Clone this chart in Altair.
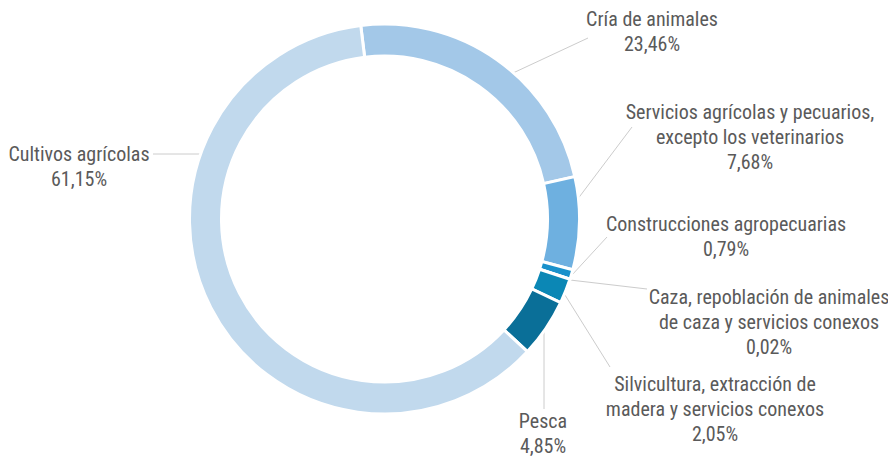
import math
import altair as alt
import pandas as pd

# ---- data ----
categorias = [
    "Cría de animales",
    "Servicios agrícolas y pecuarios, excepto los veterinarios",
    "Construcciones agropecuarias",
    "Caza, repoblación de animales de caza y servicios conexos",
    "Silvicultura, extracción de madera y servicios conexos",
    "Pesca",
    "Cultivos agrícolas",
]
porcentajes = [23.46, 7.68, 0.79, 0.02, 2.05, 4.85, 61.15]
colores = ["#a3c8e8", "#6eb0e0", "#1a91cb", "#0b7fb0", "#0b87b5", "#0a6f98", "#c1d9ed"]
lineas_etiqueta = [
    ["Cría de animales"],
    ["Servicios agrícolas y pecuarios,", "excepto los veterinarios"],
    ["Construcciones agropecuarias"],
    ["Caza, repoblación de animales", "de caza y servicios conexos"],
    ["Silvicultura, extracción de", "madera y servicios conexos"],
    ["Pesca"],
    ["Cultivos agrícolas"],
]

# ---- layout (label placement, leader lines) ----
W, H = 880, 448
CX, CY = 376.5, 211
R_OUT, R_IN = 195, 163
START = 2 * math.pi - math.radians(7)
label_pos = [(644, 12), (742, 105), (718, 217), (761, 290), (707, 377), (535, 414), (71, 147)]
leader = [
    (505, 65, 580, 30),
    (569, 192, 624, 119),
    (564, 267, 599, 229),
    (562, 272, 639, 281),
    (557, 287, 602, 359),
    (536, 324, 536, 401),
    (145, 146, 197, 146),
]

def fmt(v):
    return f"{v:.2f}".replace(".", ",") + "%"

df = pd.DataFrame({"cat": categorias, "pct": porcentajes, "orden": list(range(len(categorias)))})
df_lab = pd.DataFrame({
    "cat": categorias,
    "texto": ["\n".join(l + [fmt(v)]) for l, v in zip(lineas_etiqueta, porcentajes)],
    "x": [p[0] for p in label_pos],
    "y": [p[1] for p in label_pos],
})
df_lead = pd.DataFrame({
    "x": [l[0] for l in leader], "y": [l[1] for l in leader],
    "x2": [l[2] for l in leader], "y2": [l[3] for l in leader],
})

arcs = alt.Chart(df).mark_arc(
    outerRadius=R_OUT, innerRadius=R_IN, stroke="white", strokeWidth=3
).encode(
    theta=alt.Theta("pct:Q", stack=True, scale=alt.Scale(range=[START, START + 2 * math.pi])),
    color=alt.Color("cat:N", scale=alt.Scale(domain=categorias, range=colores), legend=None),
    order=alt.Order("orden:Q"),
    x=alt.value(CX),
    y=alt.value(CY),
)

lines = alt.Chart(df_lead).mark_rule(color="#cccccc", strokeWidth=1).encode(
    x=alt.X("x:Q", scale=None, axis=None),
    y=alt.Y("y:Q", scale=None, axis=None),
    x2="x2:Q",
    y2="y2:Q",
)

texts = alt.Chart(df_lab).mark_text(
    font="Roboto Condensed, Liberation Sans, sans-serif",
    fontSize=20,
    color="#5a5a5a",
    align="center",
    baseline="middle",
    lineBreak="\n",
    lineHeight=25,
).encode(
    x=alt.X("x:Q", scale=None, axis=None),
    y=alt.Y("y:Q", scale=None, axis=None),
    text="texto:N",
)

chart = alt.layer(lines, arcs, texts).properties(
    width=W, height=H, padding=0, autosize=alt.AutoSizeParams(type="none")
).configure_view(stroke=None)

chart.save("out.html", embed_options={"renderer": "svg", "actions": False})
